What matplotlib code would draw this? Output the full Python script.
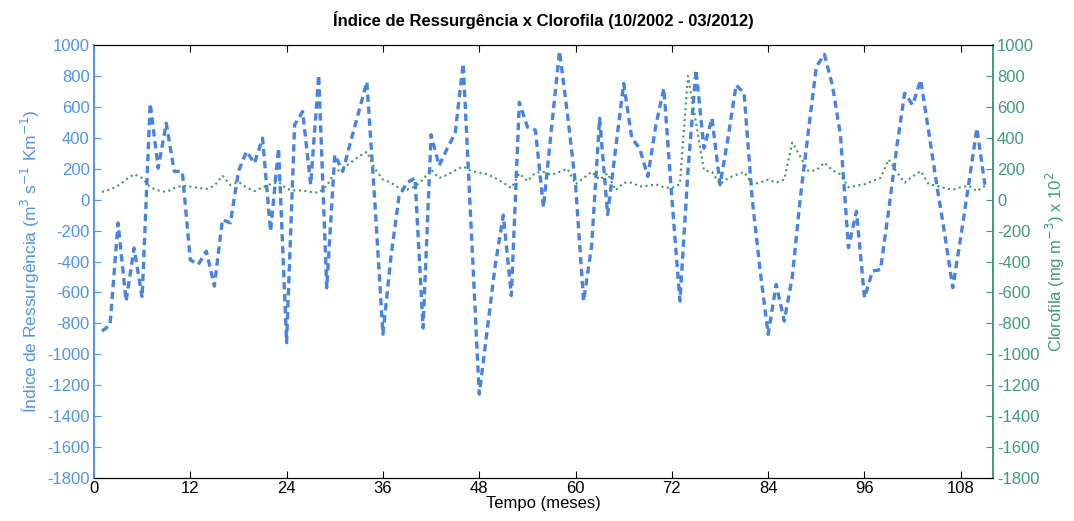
import numpy as np
import matplotlib.pyplot as plt

plt.rcParams['font.family'] = ['Liberation Sans', 'DejaVu Sans']
plt.rcParams['axes.unicode_minus'] = False

# meses (10/2002 = 1)
meses = np.arange(1, 112)

# Índice de Ressurgência (m3 s-1 Km-1)
ressurgencia = [
    -850, -810, -150, -656, -312, -634, 623, 204, 495, 183,
    183, -390, -419, -333, -559, -129, -150, 183, 312, 236,
    398, -204, 333, -925, 484, 570, 97, 806, -570, 290,
    183, 380, 570, 763, -20, -870, -370, 20, 110, 140,
    -830, 420, 220, 330, 430, 880, -190, -1258, -840, -420,
    -100, -620, 630, 470, 450, -50, 460, 960, 550, 97,
    -656, -300, 527, -97, 333, 752, 400, 330, 150, 480,
    720, 10, -656, 180, 840, 333, 527, 97, 400, 742,
    688, 10, -460, -871, -548, -785, -500, 10, 440, 860,
    940, 740, 420, -310, -75, -634, -462, -452, -75, 333,
    688, 613, 774, 440, 97, -225, -570, -240, 107, 462,
    97,
]

# Clorofila (mg m-3) x 10^2
clorofila = [
    50, 65, 90, 130, 165, 140, 80, 60, 50, 75,
    90, 85, 75, 70, 90, 155, 95, 115, 80, 55,
    80, 100, 115, 70, 60, 60, 50, 45, 90, 180,
    200, 240, 280, 310, 200, 130, 110, 75, 65, 85,
    130, 195, 140, 160, 190, 215, 185, 175, 165, 140,
    110, 75, 170, 120, 175, 180, 160, 180, 200, 100,
    140, 180, 130, 170, 60, 110, 110, 85, 90, 100,
    80, 75, 100, 800, 500, 190, 180, 100, 140, 160,
    180, 100, 110, 130, 110, 130, 370, 280, 185, 190,
    240, 190, 165, 80, 90, 100, 120, 140, 260, 180,
    110, 150, 185, 100, 90, 75, 65, 80, 90, 55,
    90,
]

azul = '#4683e3'
azul_txt = '#4f93e6'
verde = '#3a9a5c'
verde_eixo = '#3f9a7c'

fig = plt.figure(figsize=(10.74, 5.21), dpi=100)
ax1 = fig.add_axes([0.0875, 0.0825, 0.837, 0.831])
ax2 = ax1.twinx()

ax1.plot(meses, ressurgencia, color=azul, lw=2.4, linestyle=(0, (2.2, 1.4)))
ax2.plot(meses, clorofila, color=verde, lw=1.5, linestyle=':')

ax1.set_xlim(0, 112)
ax1.set_ylim(-1800, 1000)
ax2.set_ylim(-1800, 1000)
ax1.set_xticks(np.arange(0, 109, 12))
ax1.set_yticks(np.arange(-1800, 1001, 200))
ax2.set_yticks(np.arange(-1800, 1001, 200))

ax1.tick_params(axis='x', direction='in', top=True, labelsize=12, length=5, pad=2)
ax1.tick_params(axis='y', direction='in', colors=azul_txt, labelsize=12, length=5, pad=3)
ax2.tick_params(axis='y', direction='in', colors=verde_eixo, labelsize=12, length=5, pad=3)

ax1.spines['left'].set_color(azul_txt)
ax2.spines['left'].set_color(azul_txt)
ax2.spines['right'].set_color(verde_eixo)
ax1.spines['right'].set_color(verde_eixo)
for a in (ax1, ax2):
    a.spines['left'].set_linewidth(1.2)
    a.spines['right'].set_linewidth(1.2)

ax1.set_title('Índice de Ressurgência x Clorofila (10/2002 - 03/2012)',
              fontsize=12, fontweight='bold', pad=14)
ax1.set_xlabel('Tempo (meses)', fontsize=12, labelpad=0)
ax1.set_ylabel('Índice de Ressurgência (m$^3$ s$^{-1}$ Km$^{-1}$)',
               color=azul_txt, fontsize=12.5, labelpad=4)
ax2.set_ylabel('Clorofila (mg m$^{-3}$) x 10$^2$', color=verde_eixo,
               fontsize=12, labelpad=3)

fig.savefig('out.png', dpi=100)
